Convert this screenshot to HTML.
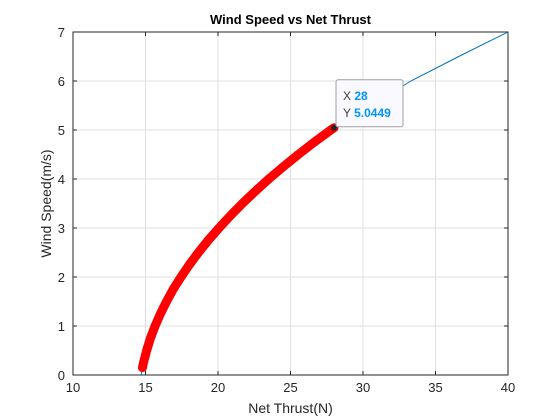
<!DOCTYPE html>
<html><head><meta charset="utf-8">
<style>
body{margin:0;background:#fff;}
svg{display:block;font-family:"Liberation Sans",sans-serif;}
</style></head>
<body>
<svg id="c" width="560" height="420">
<rect x="0" y="0" width="560" height="420" fill="#fff"/>
</svg>
<script>
const xTicks=[10,15,20,25,30,35,40];
const yTicks=[0,1,2,3,4,5,6,7];
const speeds=[0,0.1,0.25,0.5,0.75,1,1.25,1.5,1.75,2,2.25,2.5,2.75,3,3.25,3.5,3.75,4,4.25,4.5,4.75,5,5.0449,5.5,6,6.5,7];
const thrusts=[14.70,14.76,14.86,15.08,15.34,15.66,16.03,16.45,16.91,17.45,18.02,18.65,19.33,20.07,20.85,21.68,22.57,23.50,24.50,25.54,26.63,27.78,28.00,30.60,33.30,36.60,40.0];
const redSpeeds=[0.15,0.25,0.5,0.75,1,1.25,1.5,1.75,2,2.25,2.5,2.75,3,3.25,3.5,3.75,4,4.25,4.5,4.75,5,5.0449];
const redThrusts=[14.79,14.86,15.08,15.34,15.66,16.03,16.45,16.91,17.45,18.02,18.65,19.33,20.07,20.85,21.68,22.57,23.50,24.50,25.54,26.63,27.78,28.00];
const tipX=28, tipY=5.0449;

const L=73,R=508,T=32,B=375;
const sx=v=>L+(v-10)/30*(R-L);
const sy=v=>B-v/7*(B-T);
const svg=document.getElementById('c');
const NS='http://www.w3.org/2000/svg';
function mk(tag,attrs,parent){const e=document.createElementNS(NS,tag);for(const k in attrs)e.setAttribute(k,attrs[k]);(parent||svg).appendChild(e);return e;}

const bg=mk('rect',{x:L,y:T,width:R-L,height:B-T,fill:'#fff'});


xTicks.forEach(t=>{
 const g=mk('line',{x1:sx(t),x2:sx(t),y1:T,y2:B,stroke:'#dfdfdf','stroke-width':1});
 
 
 mk('line',{x1:sx(t),x2:sx(t),y1:B,y2:B-4,stroke:'#262626'});
 mk('line',{x1:sx(t),x2:sx(t),y1:T,y2:T+4,stroke:'#262626'});
 const tx=mk('text',{x:sx(t),y:B+17,'text-anchor':'middle','font-size':13,fill:'#262626'});
 tx.textContent=t;
 
 
});
yTicks.forEach(t=>{
 const g=mk('line',{x1:L,x2:R,y1:sy(t),y2:sy(t),stroke:'#dfdfdf','stroke-width':1});
 
 
 mk('line',{x1:L,x2:L+4,y1:sy(t),y2:sy(t),stroke:'#262626'});
 mk('line',{x1:R,x2:R-4,y1:sy(t),y2:sy(t),stroke:'#262626'});
 const tx=mk('text',{x:L-8,y:sy(t)+5,'text-anchor':'end','font-size':13,fill:'#262626'});
 tx.textContent=t;
 
 
});
const box=mk('rect',{x:L,y:T,width:R-L,height:B-T,fill:'none',stroke:'#262626','stroke-width':1});



const defs=mk('defs',{});
const cp=mk('clipPath',{id:'clip'},defs);
mk('rect',{x:L,y:T,width:R-L,height:B-T},cp);

const blue=mk('polyline',{points:speeds.map((v,i)=>sx(thrusts[i])+','+sy(v)).join(' '),fill:'none',stroke:'#0072bd','stroke-width':1,'clip-path':'url(#clip)'});


const red=mk('polyline',{points:redSpeeds.map((v,i)=>sx(redThrusts[i])+','+sy(v)).join(' '),fill:'none',stroke:'#ff0000','stroke-width':9,'stroke-linejoin':'round','stroke-linecap':'round','clip-path':'url(#clip)'});



const dot=mk('circle',{cx:sx(tipX),cy:sy(tipY),r:3,fill:'#262626'});


const tg=mk('g',{});


const bx=sx(tipX)+2, by=sy(tipY)-48;
mk('rect',{x:bx,y:by,width:67,height:47,rx:2,fill:'#f9f9ff',stroke:'#a0a0a0'},tg);
const t1=mk('text',{x:bx+7,y:by+20,'font-size':12,fill:'#404040'},tg);t1.innerHTML='X <tspan fill="#0095ff" font-weight="bold">'+tipX+'</tspan>';
const t2=mk('text',{x:bx+7,y:by+37,'font-size':12,fill:'#404040'},tg);t2.innerHTML='Y <tspan fill="#0095ff" font-weight="bold">'+tipY.toFixed(4)+'</tspan>';

const title=mk('text',{x:(L+R)/2,y:24,'text-anchor':'middle','font-size':13,'font-weight':'bold',fill:'#000'});
title.textContent='Wind Speed vs Net Thrust';


const xl=mk('text',{x:(L+R)/2,y:413,'text-anchor':'middle','font-size':14,fill:'#262626'});
xl.textContent='Net Thrust(N)';


const yl=mk('text',{x:0,y:0,'text-anchor':'middle','font-size':14,fill:'#262626',transform:'translate(51,'+((T+B)/2)+') rotate(-90)'});
yl.textContent='Wind Speed(m/s)';


</script>
</body></html>
